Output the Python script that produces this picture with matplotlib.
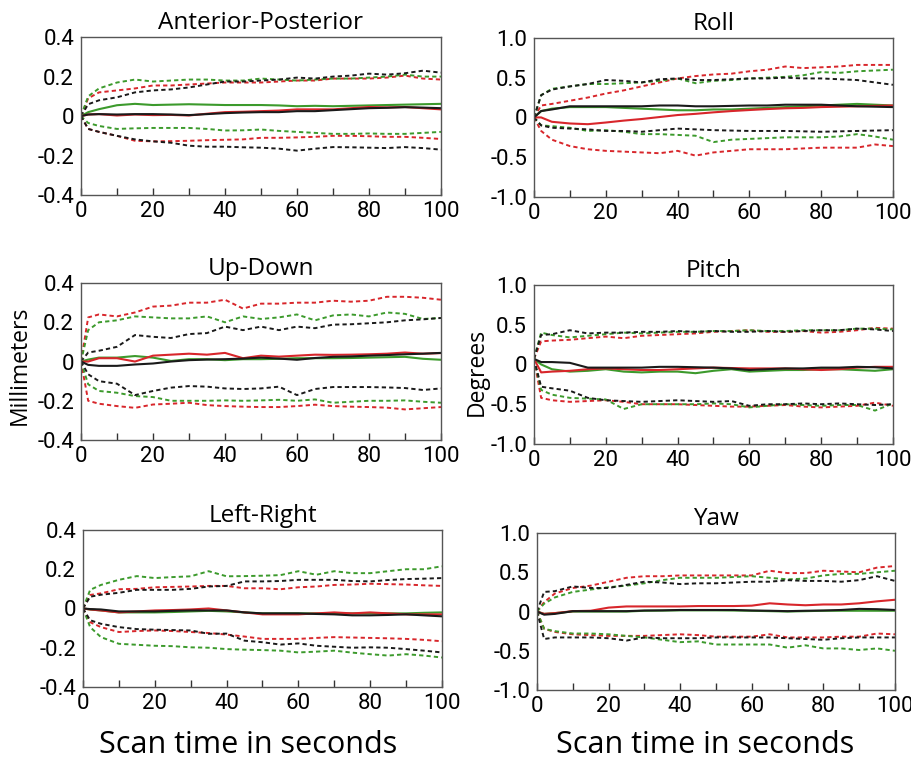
import matplotlib
matplotlib.use("Agg")
import matplotlib.pyplot as plt

# time samples (s), shared by every trace
t = [0, 2, 5, 10, 15, 20, 25, 30, 35, 40, 45, 50, 55, 60, 65, 70, 75, 80, 85, 90, 95, 100]

# Anterior-Posterior (mm)
ap_red = [0, 0.008, 0.01, 0.003, 0.008, 0.005, 0.006, 0.003, 0.012, 0.02, 0.022, 0.025, 0.028, 0.034, 0.034, 0.034, 0.04, 0.046, 0.044, 0.046, 0.04, 0.034]
ap_red_hi = [0, 0.09, 0.12, 0.13, 0.14, 0.155, 0.155, 0.16, 0.165, 0.17, 0.17, 0.17, 0.175, 0.18, 0.18, 0.19, 0.19, 0.19, 0.195, 0.205, 0.19, 0.185]
ap_red_lo = [0, -0.065, -0.08, -0.1, -0.125, -0.128, -0.127, -0.125, -0.122, -0.12, -0.118, -0.11, -0.11, -0.108, -0.105, -0.1, -0.1, -0.102, -0.105, -0.105, -0.11, -0.116]
ap_green = [0, 0.02, 0.035, 0.055, 0.062, 0.056, 0.058, 0.06, 0.058, 0.056, 0.056, 0.056, 0.054, 0.05, 0.052, 0.05, 0.052, 0.054, 0.056, 0.058, 0.06, 0.062]
ap_green_hi = [0, 0.1, 0.14, 0.17, 0.185, 0.175, 0.18, 0.185, 0.185, 0.18, 0.18, 0.19, 0.185, 0.18, 0.185, 0.19, 0.19, 0.195, 0.2, 0.21, 0.2, 0.2]
ap_green_lo = [0, -0.035, -0.05, -0.065, -0.062, -0.06, -0.06, -0.06, -0.065, -0.073, -0.072, -0.068, -0.075, -0.08, -0.085, -0.09, -0.09, -0.088, -0.09, -0.09, -0.085, -0.08]
ap_black = [0, 0.008, 0.01, 0.008, 0.01, 0.01, 0.008, 0.005, 0.01, 0.015, 0.018, 0.02, 0.02, 0.025, 0.025, 0.03, 0.035, 0.04, 0.042, 0.045, 0.043, 0.04]
ap_black_hi = [0, 0.06, 0.08, 0.095, 0.12, 0.13, 0.135, 0.145, 0.16, 0.175, 0.175, 0.18, 0.185, 0.195, 0.19, 0.2, 0.205, 0.215, 0.21, 0.217, 0.23, 0.22]
ap_black_lo = [0, -0.065, -0.08, -0.1, -0.118, -0.128, -0.135, -0.15, -0.155, -0.155, -0.158, -0.16, -0.165, -0.175, -0.165, -0.157, -0.158, -0.16, -0.162, -0.157, -0.162, -0.17]

# Up-Down (mm)
ud_red = [0, 0.0, 0.017, 0.017, 0.0, 0.03, 0.035, 0.04, 0.035, 0.044, 0.017, 0.03, 0.025, 0.03, 0.035, 0.034, 0.035, 0.037, 0.04, 0.046, 0.04, 0.043]
ud_red_hi = [0, 0.225, 0.24, 0.23, 0.25, 0.28, 0.285, 0.3, 0.3, 0.315, 0.27, 0.295, 0.295, 0.3, 0.3, 0.31, 0.305, 0.31, 0.33, 0.33, 0.325, 0.315]
ud_red_lo = [0, -0.2, -0.215, -0.227, -0.236, -0.219, -0.215, -0.21, -0.222, -0.227, -0.23, -0.232, -0.232, -0.227, -0.22, -0.227, -0.23, -0.232, -0.235, -0.244, -0.238, -0.232]
ud_green = [0, 0.01, 0.02, 0.02, 0.028, 0.02, 0.003, 0.012, 0.012, 0.007, 0.012, 0.012, 0.014, 0.017, 0.017, 0.017, 0.018, 0.02, 0.022, 0.024, 0.014, 0.009]
ud_green_hi = [0, 0.16, 0.2, 0.21, 0.23, 0.225, 0.22, 0.22, 0.23, 0.2, 0.23, 0.217, 0.225, 0.24, 0.21, 0.235, 0.24, 0.23, 0.25, 0.243, 0.217, 0.222]
ud_green_lo = [0, -0.116, -0.15, -0.159, -0.176, -0.181, -0.2, -0.2, -0.2, -0.198, -0.2, -0.198, -0.195, -0.2, -0.193, -0.21, -0.205, -0.2, -0.2, -0.198, -0.205, -0.21]
ud_black = [0, -0.017, -0.022, -0.022, -0.015, -0.01, 0.0, 0.007, 0.01, 0.012, 0.015, 0.02, 0.015, 0.009, 0.018, 0.024, 0.026, 0.03, 0.033, 0.037, 0.04, 0.044]
ud_black_hi = [0, 0.046, 0.055, 0.075, 0.135, 0.126, 0.12, 0.14, 0.145, 0.178, 0.16, 0.178, 0.16, 0.178, 0.17, 0.188, 0.19, 0.195, 0.2, 0.21, 0.215, 0.222]
ud_black_lo = [0, -0.065, -0.1, -0.113, -0.171, -0.15, -0.133, -0.125, -0.128, -0.137, -0.14, -0.137, -0.128, -0.171, -0.14, -0.13, -0.13, -0.13, -0.132, -0.135, -0.145, -0.137]

# Left-Right (mm)
lr_red = [0, -0.005, -0.01, -0.02, -0.015, -0.01, -0.008, -0.005, 0.0, -0.01, -0.02, -0.03, -0.03, -0.03, -0.025, -0.02, -0.025, -0.02, -0.025, -0.03, -0.03, -0.03]
lr_red_hi = [0, 0.069, 0.077, 0.098, 0.1, 0.108, 0.11, 0.112, 0.115, 0.115, 0.103, 0.103, 0.098, 0.108, 0.112, 0.12, 0.122, 0.126, 0.124, 0.122, 0.118, 0.115]
lr_red_lo = [0, -0.07, -0.095, -0.12, -0.115, -0.112, -0.115, -0.12, -0.125, -0.133, -0.143, -0.155, -0.155, -0.155, -0.15, -0.146, -0.148, -0.15, -0.152, -0.155, -0.16, -0.167]
lr_green = [0, -0.005, -0.01, -0.02, -0.02, -0.02, -0.018, -0.015, -0.012, -0.015, -0.02, -0.025, -0.025, -0.025, -0.025, -0.025, -0.025, -0.025, -0.025, -0.025, -0.022, -0.02]
lr_green_hi = [0, 0.095, 0.12, 0.146, 0.165, 0.155, 0.16, 0.164, 0.19, 0.164, 0.165, 0.167, 0.17, 0.19, 0.172, 0.19, 0.18, 0.18, 0.19, 0.2, 0.2, 0.215]
lr_green_lo = [0, -0.095, -0.146, -0.18, -0.185, -0.19, -0.192, -0.198, -0.2, -0.207, -0.21, -0.212, -0.215, -0.224, -0.22, -0.215, -0.225, -0.233, -0.24, -0.233, -0.24, -0.25]
lr_black = [0, -0.003, -0.005, -0.015, -0.015, -0.015, -0.012, -0.01, -0.01, -0.01, -0.02, -0.025, -0.025, -0.025, -0.028, -0.03, -0.035, -0.035, -0.033, -0.03, -0.035, -0.04]
lr_black_hi = [0, 0.06, 0.07, 0.08, 0.095, 0.095, 0.095, 0.1, 0.112, 0.115, 0.138, 0.138, 0.14, 0.146, 0.146, 0.146, 0.14, 0.138, 0.145, 0.15, 0.152, 0.155]
lr_black_lo = [0, -0.06, -0.078, -0.095, -0.105, -0.108, -0.11, -0.112, -0.129, -0.128, -0.164, -0.172, -0.184, -0.178, -0.19, -0.195, -0.2, -0.198, -0.2, -0.207, -0.215, -0.224]

# Roll (deg)
ro_red = [0, 0.0, -0.055, -0.076, -0.085, -0.064, -0.04, -0.02, 0.005, 0.03, 0.045, 0.064, 0.08, 0.093, 0.105, 0.115, 0.12, 0.13, 0.135, 0.14, 0.145, 0.15]
ro_red_hi = [0, 0.15, 0.17, 0.21, 0.25, 0.3, 0.34, 0.39, 0.44, 0.49, 0.52, 0.54, 0.55, 0.58, 0.6, 0.64, 0.62, 0.63, 0.64, 0.66, 0.66, 0.66]
ro_red_lo = [0, -0.17, -0.28, -0.36, -0.4, -0.42, -0.43, -0.44, -0.45, -0.42, -0.48, -0.44, -0.42, -0.4, -0.4, -0.4, -0.39, -0.38, -0.38, -0.38, -0.34, -0.36]
ro_green = [0, 0.08, 0.11, 0.13, 0.13, 0.13, 0.12, 0.11, 0.1, 0.09, 0.09, 0.1, 0.1, 0.11, 0.12, 0.13, 0.14, 0.15, 0.16, 0.17, 0.16, 0.15]
ro_green_hi = [0, 0.28, 0.36, 0.39, 0.42, 0.42, 0.43, 0.44, 0.46, 0.49, 0.43, 0.46, 0.47, 0.49, 0.5, 0.51, 0.53, 0.57, 0.56, 0.58, 0.59, 0.6]
ro_green_lo = [0, -0.1, -0.11, -0.13, -0.17, -0.16, -0.18, -0.21, -0.21, -0.22, -0.23, -0.31, -0.28, -0.27, -0.26, -0.25, -0.25, -0.25, -0.24, -0.21, -0.24, -0.28]
ro_black = [0, 0.08, 0.1, 0.14, 0.14, 0.14, 0.14, 0.14, 0.15, 0.15, 0.14, 0.14, 0.145, 0.15, 0.15, 0.16, 0.16, 0.16, 0.15, 0.14, 0.135, 0.13]
ro_black_hi = [0, 0.28, 0.35, 0.39, 0.42, 0.47, 0.46, 0.44, 0.48, 0.49, 0.47, 0.47, 0.48, 0.49, 0.49, 0.5, 0.49, 0.49, 0.48, 0.47, 0.44, 0.41]
ro_black_lo = [0, -0.1, -0.13, -0.14, -0.15, -0.17, -0.17, -0.18, -0.16, -0.14, -0.15, -0.16, -0.165, -0.17, -0.17, -0.17, -0.175, -0.18, -0.175, -0.17, -0.165, -0.16]

# Pitch (deg)
pi_red = [0.07, -0.1, -0.09, -0.08, -0.06, -0.05, -0.06, -0.07, -0.07, -0.06, -0.05, -0.04, -0.045, -0.05, -0.05, -0.05, -0.06, -0.07, -0.06, -0.04, -0.03, -0.03]
pi_red_hi = [0.07, 0.29, 0.3, 0.31, 0.33, 0.35, 0.33, 0.36, 0.37, 0.38, 0.39, 0.41, 0.42, 0.43, 0.41, 0.41, 0.42, 0.4, 0.41, 0.43, 0.46, 0.45]
pi_red_lo = [0.07, -0.42, -0.45, -0.47, -0.46, -0.45, -0.47, -0.5, -0.5, -0.5, -0.51, -0.52, -0.53, -0.53, -0.52, -0.51, -0.53, -0.54, -0.53, -0.52, -0.48, -0.52]
pi_green = [0.07, 0.0, -0.06, -0.09, -0.08, -0.06, -0.09, -0.1, -0.09, -0.09, -0.11, -0.08, -0.06, -0.09, -0.08, -0.07, -0.07, -0.06, -0.06, -0.07, -0.08, -0.06]
pi_green_hi = [0.07, 0.4, 0.37, 0.34, 0.36, 0.38, 0.4, 0.39, 0.4, 0.41, 0.41, 0.42, 0.42, 0.43, 0.42, 0.42, 0.43, 0.43, 0.43, 0.45, 0.45, 0.44]
pi_green_lo = [0.07, -0.32, -0.38, -0.42, -0.43, -0.44, -0.56, -0.5, -0.5, -0.5, -0.5, -0.49, -0.5, -0.54, -0.52, -0.5, -0.51, -0.52, -0.51, -0.51, -0.58, -0.49]
pi_black = [0.07, 0.03, 0.03, 0.02, -0.04, -0.04, -0.04, -0.04, -0.03, -0.03, -0.035, -0.04, -0.05, -0.07, -0.06, -0.05, -0.05, -0.04, -0.04, -0.03, -0.035, -0.05]
pi_black_hi = [0.07, 0.37, 0.38, 0.43, 0.39, 0.4, 0.4, 0.41, 0.41, 0.42, 0.41, 0.42, 0.41, 0.41, 0.42, 0.41, 0.42, 0.43, 0.43, 0.45, 0.44, 0.42]
pi_black_lo = [0.07, -0.28, -0.3, -0.33, -0.42, -0.45, -0.46, -0.47, -0.46, -0.45, -0.46, -0.47, -0.46, -0.52, -0.5, -0.5, -0.49, -0.5, -0.49, -0.5, -0.51, -0.5]

# Yaw (deg)
ya_red = [0, -0.03, -0.02, 0.005, 0.01, 0.05, 0.065, 0.065, 0.065, 0.065, 0.07, 0.07, 0.07, 0.075, 0.105, 0.09, 0.08, 0.09, 0.09, 0.105, 0.13, 0.15]
ya_red_hi = [0, 0.12, 0.23, 0.3, 0.33, 0.38, 0.43, 0.45, 0.45, 0.46, 0.46, 0.46, 0.46, 0.46, 0.52, 0.49, 0.49, 0.52, 0.51, 0.5, 0.56, 0.58]
ya_red_lo = [0, -0.22, -0.26, -0.29, -0.3, -0.31, -0.31, -0.31, -0.3, -0.29, -0.3, -0.32, -0.32, -0.32, -0.29, -0.33, -0.33, -0.33, -0.32, -0.32, -0.28, -0.29]
ya_green = [0, -0.03, -0.02, 0.0, 0.0, 0.0, 0.0, 0.01, 0.012, 0.015, 0.015, 0.015, 0.013, 0.01, 0.005, 0.0, 0.005, 0.01, 0.01, 0.01, 0.01, 0.01]
ya_green_hi = [0, 0.1, 0.18, 0.25, 0.28, 0.31, 0.33, 0.36, 0.4, 0.43, 0.43, 0.43, 0.44, 0.45, 0.43, 0.41, 0.42, 0.46, 0.48, 0.48, 0.5, 0.52]
ya_green_lo = [0, -0.22, -0.25, -0.28, -0.28, -0.29, -0.31, -0.33, -0.36, -0.39, -0.38, -0.42, -0.42, -0.42, -0.42, -0.46, -0.43, -0.47, -0.47, -0.49, -0.47, -0.5]
ya_black = [0, -0.04, -0.03, 0.005, 0.005, 0.005, 0.005, 0.013, 0.015, 0.02, 0.02, 0.02, 0.02, 0.013, 0.01, 0.005, 0.01, 0.013, 0.02, 0.034, 0.03, 0.02]
ya_black_hi = [0, 0.25, 0.26, 0.32, 0.3, 0.3, 0.34, 0.38, 0.37, 0.35, 0.36, 0.36, 0.37, 0.38, 0.38, 0.4, 0.39, 0.39, 0.38, 0.4, 0.45, 0.39]
ya_black_lo = [0, -0.35, -0.33, -0.33, -0.33, -0.34, -0.37, -0.33, -0.34, -0.34, -0.34, -0.33, -0.33, -0.33, -0.33, -0.34, -0.35, -0.36, -0.34, -0.33, -0.33, -0.33]

mm_ticks = [-0.4, -0.2, 0, 0.2, 0.4]
mm_labels = ["-0.4", "-0.2", "0", "0.2", "0.4"]
deg_ticks = [-1.0, -0.5, 0, 0.5, 1.0]
deg_labels = ["-1.0", "-0.5", "0", "0.5", "1.0"]

RED = "#d8262b"
GREEN = "#3c9a2c"
BLACK = "#1a1a1a"
DASH = (0, (2.2, 1.6))
TICKFONT = "Roboto"
LABELFONT = "Open Sans"

fig = plt.figure(figsize=(9.12, 7.65), dpi=100)


def panel(rect, title, yt, yl, ylim, traces):
    ax = fig.add_axes(rect)
    for ys, col, ls in traces:
        ax.plot(t, ys, color=col, ls=ls, lw=1.5 if ls == "-" else 1.4)
    ax.set_xlim(0, 100)
    ax.set_ylim(*ylim)
    ax.set_xticks(range(0, 101, 20))
    ax.set_xticks(range(10, 100, 20), minor=True)
    ax.set_yticks(yt)
    ax.set_yticklabels(yl)
    ax.tick_params(axis="x", which="both", direction="in", length=5, width=1,
                   color="#333333", pad=4, labelsize=16)
    ax.tick_params(axis="y", length=0, pad=5, labelsize=16)
    for lab in ax.get_xticklabels() + ax.get_yticklabels():
        lab.set_family(TICKFONT)
    for s in ax.spines.values():
        s.set_color("#555555")
        s.set_linewidth(1.0)
    ax.set_title(title, fontsize=17.5, family=LABELFONT, pad=6)
    return ax


def traces(r, rh, rl, g, gh, gl, b, bh, bl):
    return [(rh, RED, DASH), (rl, RED, DASH), (gh, GREEN, DASH), (gl, GREEN, DASH),
            (bh, BLACK, DASH), (bl, BLACK, DASH), (g, GREEN, "-"), (r, RED, "-"), (b, BLACK, "-")]


panel([0.0888, 0.745, 0.3947, 0.2065], "Anterior-Posterior", mm_ticks, mm_labels, (-0.4, 0.4),
      traces(ap_red, ap_red_hi, ap_red_lo, ap_green, ap_green_hi, ap_green_lo, ap_black, ap_black_hi, ap_black_lo))
panel([0.5855, 0.7425, 0.3936, 0.208], "Roll", deg_ticks, deg_labels, (-1.0, 1.0),
      traces(ro_red, ro_red_hi, ro_red_lo, ro_green, ro_green_hi, ro_green_lo, ro_black, ro_black_hi, ro_black_lo))
panel([0.0888, 0.4248, 0.3947, 0.2052], "Up-Down", mm_ticks, mm_labels, (-0.4, 0.4),
      traces(ud_red, ud_red_hi, ud_red_lo, ud_green, ud_green_hi, ud_green_lo, ud_black, ud_black_hi, ud_black_lo))
panel([0.5855, 0.4196, 0.3936, 0.208], "Pitch", deg_ticks, deg_labels, (-1.0, 1.0),
      traces(pi_red, pi_red_hi, pi_red_lo, pi_green, pi_green_hi, pi_green_lo, pi_black, pi_black_hi, pi_black_lo))
panel([0.091, 0.102, 0.3936, 0.2052], "Left-Right", mm_ticks, mm_labels, (-0.4, 0.4),
      traces(lr_red, lr_red_hi, lr_red_lo, lr_green, lr_green_hi, lr_green_lo, lr_black, lr_black_hi, lr_black_lo))
panel([0.5888, 0.098, 0.3925, 0.2052], "Yaw", deg_ticks, deg_labels, (-1.0, 1.0),
      traces(ya_red, ya_red_hi, ya_red_lo, ya_green, ya_green_hi, ya_green_lo, ya_black, ya_black_hi, ya_black_lo))

fig.text(20 / 912, 1 - 365 / 765, "Millimeters", rotation=90, ha="center", va="center",
         fontsize=16.5, family=LABELFONT)
fig.text(477 / 912, 1 - 372 / 765, "Degrees", rotation=90, ha="center", va="center",
         fontsize=16.5, family=LABELFONT)
fig.text(248 / 912, 1 - 745 / 765, "Scan time in seconds", ha="center", va="center",
         fontsize=22, family=LABELFONT)
fig.text(705 / 912, 1 - 745 / 765, "Scan time in seconds", ha="center", va="center",
         fontsize=22, family=LABELFONT)

fig.savefig("out.png", dpi=100, facecolor="white")
